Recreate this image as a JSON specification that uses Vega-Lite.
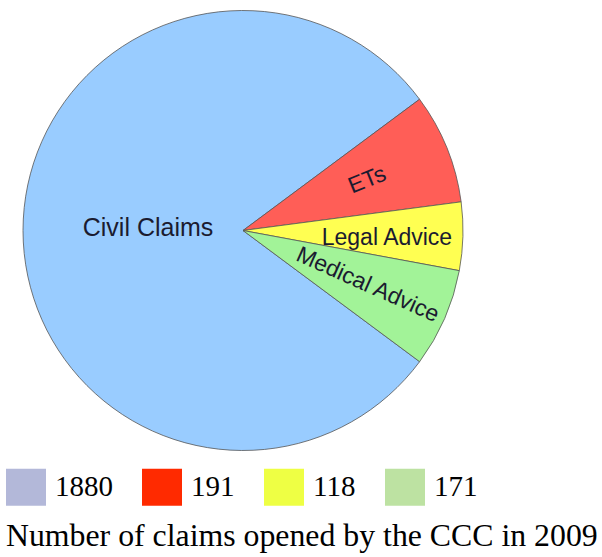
{
  "$schema": "https://vega.github.io/schema/vega-lite/v6.json",
  "width": 486,
  "height": 461,
  "padding": {"left": 0, "top": 0, "right": 116, "bottom": 96},
  "autosize": {"type": "none"},
  "background": "white",
  "config": {"view": {"stroke": null}},
  "data": {"values": [
    {"category": "Civil Claims", "count": 1880},
    {"category": "ETs", "count": 191},
    {"category": "Legal Advice", "count": 118},
    {"category": "Medical Advice", "count": 171}
  ]},
  "encoding": {
    "theta": {"field": "count", "type": "quantitative", "stack": true, "scale": {"range": [2.2096, 8.4928]}},
    "order": {"field": "category", "sort": "ascending"}
  },
  "layer": [
    {
      "mark": {"type": "arc", "outerRadius": 220, "stroke": "#555555", "strokeWidth": 0.8},
      "encoding": {
        "color": {"field": "category", "type": "nominal",
          "scale": {"domain": ["Civil Claims", "ETs", "Legal Advice", "Medical Advice"], "range": ["#99ccff", "#ff5e57", "#ffff52", "#a2f398"]},
          "legend": null}
      }
    },
    {
      "mark": {"type": "text", "radius": 95, "angle": 0, "dy": -3, "font": "Liberation Sans", "fontSize": 25, "color": "#1b1b30"},
      "encoding": {"detail": {"field": "category"}, "text": {"condition": {"test": "datum.category === 'Civil Claims'", "field": "category"}, "value": ""}}
    },
    {
      "mark": {"type": "text", "radius": 134, "angle": 338, "font": "Liberation Sans", "fontSize": 23, "color": "#1b1b30"},
      "encoding": {"detail": {"field": "category"}, "text": {"condition": {"test": "datum.category === 'ETs'", "field": "category"}, "value": ""}}
    },
    {
      "mark": {"type": "text", "radius": 144, "angle": 0, "dy": 4, "font": "Liberation Sans", "fontSize": 23, "color": "#1b1b30"},
      "encoding": {"detail": {"field": "category"}, "text": {"condition": {"test": "datum.category === 'Legal Advice'", "field": "category"}, "value": ""}}
    },
    {
      "mark": {"type": "text", "radius": 136, "angle": 24, "font": "Liberation Sans", "fontSize": 23, "color": "#1b1b30"},
      "encoding": {"detail": {"field": "category"}, "text": {"condition": {"test": "datum.category === 'Medical Advice'", "field": "category"}, "value": ""}}
    },
    {
      "mark": {"type": "text", "text": ""},
      "encoding": {
        "fill": {"field": "count", "type": "nominal", "sort": [1880, 191, 118, 171],
          "scale": {"domain": [1880, 191, 118, 171], "range": ["#b3b8d9", "#ff2a00", "#eeff44", "#bde2a2"]},
          "legend": {
            "orient": "none", "legendX": 6, "legendY": 467, "direction": "horizontal",
            "padding": 0,
            "symbolType": "M-1,-0.925L1,-0.925L1,0.925L-1,0.925Z",
            "symbolSize": 1600, "symbolStrokeWidth": 0, "symbolOpacity": 1,
            "labelFont": "Liberation Serif", "labelFontSize": 29, "labelColor": "black", "labelOffset": 9,
            "columnPadding": 29,
            "title": "Number of claims opened by the CCC in 2009",
            "titleOrient": "bottom", "titleAnchor": "start",
            "titleFont": "Liberation Serif", "titleFontSize": 31.8, "titleFontWeight": "normal",
            "titleColor": "black", "titlePadding": 15, "titleLimit": 700
          }
        }
      }
    }
  ]
}
